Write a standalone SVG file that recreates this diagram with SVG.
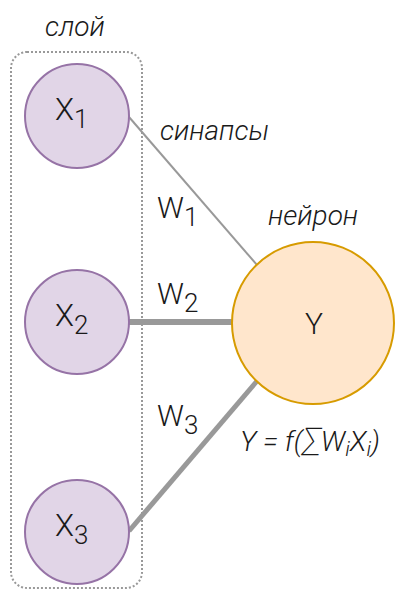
<svg xmlns="http://www.w3.org/2000/svg" width="395" height="592" viewBox="0 0 395 592">
<style>
.in{fill:#e1d5e7;stroke:#9673a6;stroke-width:2}
.out{fill:#ffe6cc;stroke:#d79b00;stroke-width:2}
.t{font-family:Roboto,"Liberation Sans",sans-serif;font-weight:300;fill:#1a1a1a}
.i{font-style:italic}
.syn{stroke:#999999;fill:none}
</style>
<rect x="11" y="52" width="131" height="536" rx="16" fill="none" stroke="#999999" stroke-width="2" stroke-dasharray="2 2"/>
<g id="connectors">
<line class="syn" x1="129" y1="117" x2="257" y2="265" stroke-width="2"/>
<line class="syn" x1="129" y1="322" x2="232" y2="322" stroke-width="6"/>
<line class="syn" x1="129" y1="531" x2="257" y2="381" stroke-width="5"/>
</g>
<g id="x1"><circle class="in" cx="77" cy="116" r="52"/><text class="t" x="55" y="120" font-size="31">X<tspan font-size="26" dy="8">1</tspan></text></g>
<g id="x2"><circle class="in" cx="77" cy="322" r="52"/><text class="t" x="55" y="326" font-size="31">X<tspan font-size="26" dy="8">2</tspan></text></g>
<g id="x3"><circle class="in" cx="77" cy="532" r="52"/><text class="t" x="55" y="536" font-size="31">X<tspan font-size="26" dy="8">3</tspan></text></g>
<g id="y"><circle class="out" cx="313" cy="323" r="81"/><text class="t" x="314" y="334" font-size="30" text-anchor="middle">Y</text></g>
<text class="t i" x="45" y="36" font-size="28">слой</text>
<text class="t i" x="160" y="140" font-size="28">синапсы</text>
<text class="t i" x="268" y="225" font-size="28">нейрон</text>
<text class="t" x="157" y="218" font-size="30">W<tspan font-size="26" dy="8">1</tspan></text>
<text class="t" x="157" y="304" font-size="30">W<tspan font-size="26" dy="8">2</tspan></text>
<text class="t" x="157" y="426" font-size="30">W<tspan font-size="26" dy="8">3</tspan></text>
<text class="t i" x="240" y="451" font-size="28">Y = f(<tspan font-size="33" font-weight="200">∑</tspan>W<tspan font-size="21" dy="5">i</tspan><tspan dy="-5">X</tspan><tspan font-size="21" dy="5">i</tspan><tspan dy="-5">)</tspan></text>
</svg>
